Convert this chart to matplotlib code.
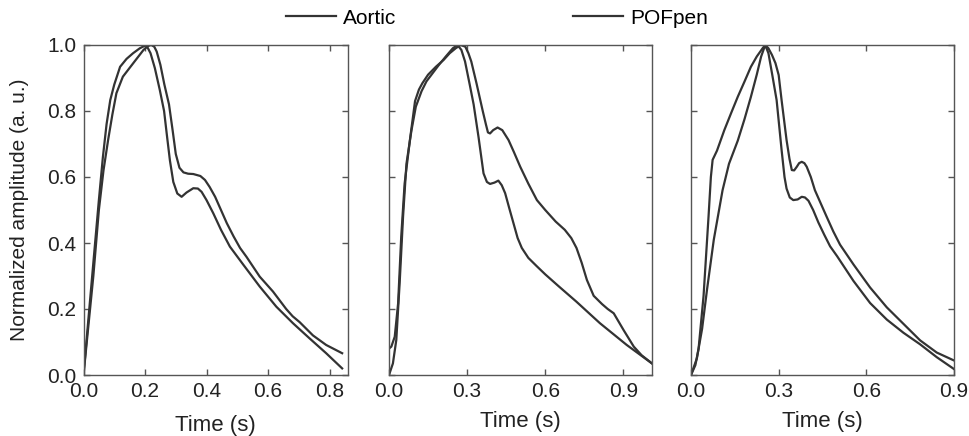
import matplotlib
matplotlib.use("Agg")
import matplotlib.pyplot as plt
from matplotlib.lines import Line2D

plt.rcParams['font.family'] = ['Liberation Sans', 'DejaVu Sans']

# ---------------- data ----------------
series_names = ["Aortic", "POFpen"]

# Panel 1
p1_aortic_t = [0.0, 0.016, 0.032, 0.05, 0.063, 0.075, 0.087, 0.1, 0.119, 0.14, 0.161, 0.183,
               0.204, 0.218, 0.232, 0.248, 0.262, 0.272, 0.281, 0.292, 0.305, 0.319, 0.335,
               0.357, 0.372, 0.384, 0.4, 0.422, 0.447, 0.476, 0.519, 0.573, 0.627, 0.681,
               0.735, 0.789, 0.841]
p1_aortic_y = [0.0, 0.17, 0.34, 0.53, 0.66, 0.76, 0.833, 0.88, 0.934, 0.958, 0.975, 0.99,
               1.0, 0.975, 0.93, 0.864, 0.80, 0.72, 0.65, 0.585, 0.55, 0.54, 0.553,
               0.566, 0.565, 0.555, 0.53, 0.49, 0.44, 0.389, 0.335, 0.268, 0.207, 0.157,
               0.111, 0.066, 0.02]
p1_pof_t = [0.0, 0.016, 0.032, 0.05, 0.065, 0.08, 0.094, 0.107, 0.128, 0.161, 0.195, 0.21,
            0.22, 0.23, 0.238, 0.25, 0.263, 0.278, 0.29, 0.3, 0.312, 0.325, 0.34, 0.357,
            0.38, 0.395, 0.41, 0.428, 0.447, 0.466, 0.488, 0.509, 0.53, 0.573, 0.616, 0.659,
            0.68, 0.703, 0.746, 0.789, 0.841]
p1_pof_y = [0.0, 0.15, 0.30, 0.50, 0.62, 0.712, 0.79, 0.854, 0.904, 0.944, 0.985, 0.997,
            1.0, 0.995, 0.98, 0.94, 0.88, 0.82, 0.74, 0.67, 0.628, 0.614, 0.61, 0.609,
            0.603, 0.591, 0.57, 0.54, 0.50, 0.46, 0.42, 0.385, 0.358, 0.298, 0.253, 0.2,
            0.178, 0.16, 0.12, 0.091, 0.066]

# Panel 2
p2_aortic_t = [0.0, 0.015, 0.028, 0.041, 0.054, 0.067, 0.086, 0.103, 0.125, 0.144, 0.167,
               0.19, 0.218, 0.245, 0.263, 0.278, 0.292, 0.31, 0.325, 0.344, 0.363, 0.376,
               0.388, 0.405, 0.42, 0.433, 0.446, 0.462, 0.478, 0.494, 0.51, 0.535, 0.567,
               0.6, 0.65, 0.72, 0.81, 0.913, 1.01]
p2_aortic_y = [0.0, 0.035, 0.106, 0.28, 0.48, 0.64, 0.74, 0.813, 0.86, 0.89, 0.914,
               0.938, 0.965, 0.99, 1.0, 0.985, 0.95, 0.88, 0.82, 0.72, 0.611, 0.585,
               0.579, 0.583, 0.589, 0.575, 0.551, 0.505, 0.46, 0.415, 0.385, 0.355, 0.33,
               0.305, 0.27, 0.222, 0.157, 0.091, 0.035]
p2_pof_t = [0.0, 0.009, 0.022, 0.035, 0.047, 0.06, 0.08, 0.1, 0.115, 0.128, 0.15, 0.18,
            0.21, 0.233, 0.256, 0.275, 0.293, 0.305, 0.316, 0.336, 0.36, 0.372, 0.38, 0.388,
            0.4, 0.417, 0.435, 0.459, 0.48, 0.504, 0.535, 0.568, 0.6, 0.64, 0.675, 0.7,
            0.72, 0.74, 0.76, 0.786, 0.818, 0.84, 0.863, 0.901, 0.94, 0.97, 1.01]
p2_pof_y = [0.08, 0.086, 0.116, 0.217, 0.42, 0.58, 0.71, 0.83, 0.865, 0.884, 0.91, 0.934,
            0.955, 0.975, 0.99, 1.0, 0.995, 0.975, 0.95, 0.884, 0.80, 0.76, 0.735, 0.732,
            0.742, 0.75, 0.742, 0.712, 0.675, 0.631, 0.58, 0.53, 0.50, 0.465, 0.44, 0.415,
            0.385, 0.34, 0.288, 0.24, 0.215, 0.2, 0.187, 0.136, 0.086, 0.06, 0.035]

# Panel 3
p3_aortic_t = [0.0, 0.015, 0.026, 0.043, 0.06, 0.068, 0.074, 0.089, 0.114, 0.137, 0.16,
               0.183, 0.205, 0.225, 0.245, 0.254, 0.265, 0.277, 0.289, 0.3, 0.31, 0.327,
               0.337, 0.345, 0.353, 0.362, 0.37, 0.379, 0.388, 0.396, 0.41, 0.424, 0.444,
               0.464, 0.487, 0.51, 0.556, 0.613, 0.67, 0.727, 0.784, 0.841, 0.9]
p3_aortic_y = [0.0, 0.03, 0.08, 0.24, 0.48, 0.6, 0.652, 0.68, 0.742, 0.793, 0.843,
               0.889, 0.934, 0.965, 0.99, 1.0, 0.99, 0.97, 0.945, 0.909, 0.833, 0.712,
               0.655, 0.621, 0.62, 0.631, 0.642, 0.646, 0.642, 0.631, 0.6, 0.56, 0.52,
               0.48, 0.435, 0.395, 0.335, 0.265, 0.205, 0.155, 0.105, 0.068, 0.044]
p3_pof_t = [0.0, 0.02, 0.038, 0.055, 0.078, 0.1, 0.108, 0.13, 0.16, 0.183, 0.205, 0.225,
            0.24, 0.254, 0.265, 0.278, 0.293, 0.31, 0.32, 0.327, 0.338, 0.35, 0.365, 0.379,
            0.39, 0.402, 0.418, 0.436, 0.456, 0.476, 0.5, 0.556, 0.613, 0.67, 0.727, 0.784,
            0.841, 0.9]
p3_pof_y = [0.0, 0.05, 0.14, 0.26, 0.41, 0.52, 0.56, 0.64, 0.71, 0.775, 0.843, 0.91,
            0.965, 1.0, 0.975, 0.91, 0.833, 0.682, 0.6, 0.565, 0.538, 0.53, 0.532, 0.54,
            0.538, 0.528, 0.5, 0.462, 0.425, 0.39, 0.36, 0.285, 0.218, 0.168, 0.128, 0.093,
            0.054, 0.018]

panels = [
    (p1_aortic_t, p1_aortic_y, p1_pof_t, p1_pof_y),
    (p2_aortic_t, p2_aortic_y, p2_pof_t, p2_pof_y),
    (p3_aortic_t, p3_aortic_y, p3_pof_t, p3_pof_y),
]
x_limits = [(0, 0.86), (0, 1.01), (0, 0.9)]
x_ticks = [[0.0, 0.2, 0.4, 0.6, 0.8], [0.0, 0.3, 0.6, 0.9], [0.0, 0.3, 0.6, 0.9]]
y_ticks = [0.0, 0.2, 0.4, 0.6, 0.8, 1.0]

# ---------------- style ----------------
W, H = 969, 436
line_color = "#333333"
spine_color = "#555555"
fs = 15

fig = plt.figure(figsize=(W / 100, H / 100), dpi=100)
lefts = [83.5, 389, 691]
widths = [264.5, 263, 263]
xlabel_pads = [10, 7, 7]
top_px, bot_px = 45, 375

for i, (at, ay, pt, py) in enumerate(panels):
    ax = fig.add_axes([lefts[i] / W, 1 - bot_px / H, widths[i] / W, (bot_px - top_px) / H])
    ax.plot(at, ay, color=line_color, lw=1.6, solid_joinstyle="round")
    ax.plot(pt, py, color=line_color, lw=1.6, solid_joinstyle="round")
    ax.set_xlim(*x_limits[i])
    ax.set_ylim(0, 1.0)
    ax.set_xticks(x_ticks[i])
    ax.set_xticklabels([f"{v:.1f}" for v in x_ticks[i]])
    ax.set_yticks(y_ticks)
    if i == 0:
        ax.set_yticklabels([f"{v:.1f}" for v in y_ticks])
        ax.set_ylabel("Normalized amplitude (a. u.)", fontsize=fs, color="#222222", labelpad=13)
    else:
        ax.set_yticklabels([])
    ax.set_xlabel("Time (s)", fontsize=16, color="#222222", labelpad=xlabel_pads[i])
    ax.tick_params(direction="in", length=4, width=1, top=True, right=True,
                   labelsize=fs, colors=spine_color, labelcolor="#222222", pad=5)
    for s in ax.spines.values():
        s.set_color(spine_color)
        s.set_linewidth(1.0)

handles = [Line2D([], [], color=line_color, lw=1.6) for _ in series_names]
fig.legend(handles, series_names, loc="center", bbox_to_anchor=(0.513, 1 - 18 / H),
           ncol=2, frameon=False, fontsize=fs, handlelength=2.4, handletextpad=0.35,
           columnspacing=8.5, borderaxespad=0, borderpad=0)

fig.savefig("out.png", dpi=100, facecolor="white")
